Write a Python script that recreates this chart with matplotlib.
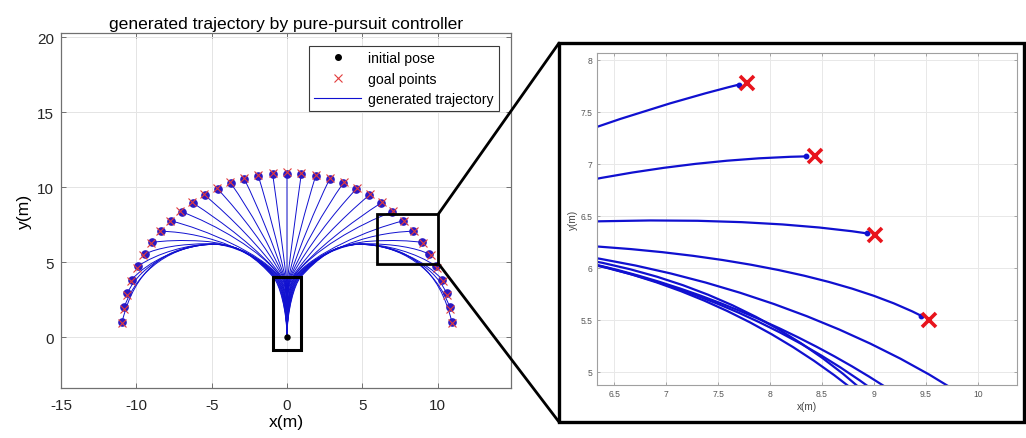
import numpy as np
import matplotlib
matplotlib.use("Agg")
import matplotlib.pyplot as plt
from matplotlib.path import Path
from matplotlib.patches import PathPatch, Rectangle, ConnectionPatch
from matplotlib.lines import Line2D

plt.rcParams['font.family'] = ['Liberation Sans', 'DejaVu Sans']

# ---------------------------------------------------------------- data
init_x = [0.0]
init_y = [0.0]

# goal points on the arc (ordered right to left)
goal_x = [10.96, 10.83, 10.63, 10.34, 9.97, 9.53, 9.01, 8.43, 7.78, 7.07, 6.31, 5.50,
          4.65, 3.76, 2.85, 1.91, 0.96, 0.00, -0.96, -1.91, -2.85, -3.76, -4.65, -5.50,
          -6.31, -7.07, -7.78, -8.43, -9.01, -9.53, -9.97, -10.34, -10.63, -10.83, -10.96]
goal_y = [0.96, 1.91, 2.85, 3.76, 4.65, 5.50, 6.31, 7.07, 7.78, 8.43, 9.01, 9.53,
          9.97, 10.34, 10.63, 10.83, 10.96, 11.00, 10.96, 10.83, 10.63, 10.34, 9.97, 9.53,
          9.01, 8.43, 7.78, 7.07, 6.31, 5.50, 4.65, 3.76, 2.85, 1.91, 0.96]

# Bezier control polygons of each trajectory after the start funnel:
# knot at y = 4, then cubic control points, last point = final pose
traj_ctrl = [
    [(0.90, 4.00), (2.00, 5.25), (3.20, 6.20), (4.80, 6.20), (8.10, 6.20), (10.12, 4.45), (10.94, 1.04)],
    [(0.85, 4.00), (1.95, 5.25), (3.20, 6.20), (4.80, 6.20), (7.60, 6.20), (9.92, 4.50), (10.81, 1.99)],
    [(0.79, 4.00), (1.89, 5.25), (3.20, 6.20), (4.80, 6.20), (7.05, 6.20), (9.68, 4.95), (10.60, 2.93)],
    [(0.74, 4.00), (1.84, 5.25), (3.20, 6.21), (4.80, 6.21), (6.95, 6.21), (9.34, 5.00), (10.30, 3.84)],
    [(0.69, 4.00), (1.79, 5.25), (3.25, 6.22), (4.85, 6.22), (6.60, 6.22), (8.60, 5.62), (9.92, 4.73)],
    [(0.64, 4.00), (1.74, 5.30), (3.60, 6.24), (5.20, 6.24), (7.00, 6.24), (8.60, 5.97), (9.45, 5.54)],
    [(0.58, 4.00), (1.68, 5.35), (3.60, 6.30), (5.60, 6.41), (7.00, 6.50), (8.20, 6.44), (8.93, 6.33)],
    [(0.53, 4.00), (1.73, 5.50), (5.10, 7.00), (8.35, 7.07)],
    [(0.48, 4.00), (1.68, 5.60), (5.47, 7.21), (7.70, 7.76)],
    [(0.42, 4.00), (1.62, 5.75), (4.80, 7.55), (7.00, 8.37)],
    [(0.37, 4.00), (1.79, 5.81), (4.32, 7.71), (6.25, 8.96)],
    [(0.32, 4.00), (1.64, 5.88), (3.69, 7.99), (5.45, 9.47)],
    [(0.26, 4.00), (1.38, 6.01), (3.04, 8.22), (4.61, 9.90)],
    [(0.21, 4.00), (1.15, 6.10), (2.41, 8.39), (3.73, 10.27)],
    [(0.16, 4.00), (0.91, 6.18), (1.82, 8.48), (2.83, 10.55)],
    [(0.11, 4.00), (0.63, 6.24), (1.23, 8.55), (1.90, 10.75)],
    [(0.05, 4.00), (0.33, 6.28), (0.63, 8.60), (0.95, 10.88)],
    [(0.00, 4.00), (0.00, 6.30), (0.00, 8.60), (0.00, 10.92)],
    [(-0.05, 4.00), (-0.33, 6.28), (-0.63, 8.60), (-0.95, 10.88)],
    [(-0.11, 4.00), (-0.63, 6.24), (-1.23, 8.55), (-1.90, 10.75)],
    [(-0.16, 4.00), (-0.91, 6.18), (-1.82, 8.48), (-2.83, 10.55)],
    [(-0.21, 4.00), (-1.15, 6.10), (-2.41, 8.39), (-3.73, 10.27)],
    [(-0.26, 4.00), (-1.38, 6.01), (-3.04, 8.22), (-4.61, 9.90)],
    [(-0.32, 4.00), (-1.64, 5.88), (-3.69, 7.99), (-5.45, 9.47)],
    [(-0.37, 4.00), (-1.79, 5.81), (-4.32, 7.71), (-6.25, 8.96)],
    [(-0.42, 4.00), (-1.62, 5.75), (-4.80, 7.55), (-7.00, 8.37)],
    [(-0.48, 4.00), (-1.68, 5.60), (-5.47, 7.21), (-7.70, 7.76)],
    [(-0.53, 4.00), (-1.73, 5.50), (-5.10, 7.00), (-8.35, 7.07)],
    [(-0.58, 4.00), (-1.68, 5.35), (-3.60, 6.30), (-5.60, 6.41), (-7.00, 6.50), (-8.20, 6.44), (-8.93, 6.33)],
    [(-0.64, 4.00), (-1.74, 5.30), (-3.60, 6.24), (-5.20, 6.24), (-7.00, 6.24), (-8.60, 5.97), (-9.45, 5.54)],
    [(-0.69, 4.00), (-1.79, 5.25), (-3.25, 6.22), (-4.85, 6.22), (-6.60, 6.22), (-8.60, 5.62), (-9.92, 4.73)],
    [(-0.74, 4.00), (-1.84, 5.25), (-3.20, 6.21), (-4.80, 6.21), (-6.95, 6.21), (-9.34, 5.00), (-10.30, 3.84)],
    [(-0.79, 4.00), (-1.89, 5.25), (-3.20, 6.20), (-4.80, 6.20), (-7.05, 6.20), (-9.68, 4.95), (-10.60, 2.93)],
    [(-0.85, 4.00), (-1.95, 5.25), (-3.20, 6.20), (-4.80, 6.20), (-7.60, 6.20), (-9.92, 4.50), (-10.81, 1.99)],
    [(-0.90, 4.00), (-2.00, 5.25), (-3.20, 6.20), (-4.80, 6.20), (-8.10, 6.20), (-10.12, 4.45), (-10.94, 1.04)],
]

x_ticks = [-15, -10, -5, 0, 5, 10]
y_ticks = [0, 5, 10, 15, 20]
zoom_x_ticks = [6.5, 7, 7.5, 8, 8.5, 9, 9.5, 10]
zoom_y_ticks = [5, 5.5, 6, 6.5, 7, 7.5, 8]

# vehicle box around the start and zoomed window
vehicle_box = (-0.9, 0.9, -0.85, 4.0)
zoom_box = (6.0, 10.05, 4.92, 8.22)

# ---------------------------------------------------------------- helpers
FUNNEL_RISE = 1.8
FUNNEL_HANDLE = 0.6


def trajectory_path(ctrl):
    p1 = np.asarray(ctrl[0], float)
    c3 = np.asarray(ctrl[1], float)
    d = c3 - p1
    d = d / np.hypot(*d)
    c2 = p1 - FUNNEL_HANDLE * d
    verts = [(init_x[0], init_y[0]), (init_x[0], init_y[0] + FUNNEL_RISE), tuple(c2)] + [tuple(p) for p in ctrl]
    codes = [Path.MOVETO] + [Path.CURVE4] * (len(verts) - 1)
    return Path(verts, codes)


end_x = [row[-1][0] for row in traj_ctrl]
end_y = [row[-1][1] for row in traj_ctrl]

BLUE = '#1010d0'
RED = '#e23c3c'

# ---------------------------------------------------------------- figure
fig = plt.figure(figsize=(10.26, 4.39), dpi=100)

ax = fig.add_axes([61 / 1026, 1 - 389 / 439, 450 / 1026, 354.7 / 439])
ax.set_xlim(-15, 14.87)
ax.set_ylim(-3.38, 20.27)
ax.set_xticks(x_ticks)
ax.set_yticks(y_ticks)
ax.set_xticklabels([str(t) for t in x_ticks])
ax.set_yticklabels([str(t) for t in y_ticks])
ax.grid(True, color='#e4e4e4', lw=0.7)
ax.set_axisbelow(True)
ax.tick_params(direction='in', top=True, right=True, length=3.5, width=0.7,
               color='#707070', labelsize=11, labelcolor='#262626')
ax.tick_params(axis='x', pad=7)
ax.tick_params(axis='y', pad=5)
for s in ax.spines.values():
    s.set_color('#707070')
    s.set_linewidth(0.9)

for row in traj_ctrl:
    ax.add_patch(PathPatch(trajectory_path(row), fill=False, edgecolor=BLUE, lw=0.7, zorder=2))
ax.plot(end_x, end_y, ls='none', marker='o', ms=5.2, mfc='#2a18c4', mec='#2a18c4', zorder=3)
ax.plot(goal_x, goal_y, ls='none', marker='x', ms=6, mew=0.8, color=RED, zorder=4)
ax.plot(init_x, init_y, ls='none', marker='o', ms=3.6, color='k', zorder=5)

vx0, vx1, vy0, vy1 = vehicle_box
ax.add_patch(Rectangle((vx0, vy0), vx1 - vx0, vy1 - vy0, fill=False, ec='k', lw=2.2, zorder=6))
zx0, zx1, zy0, zy1 = zoom_box
ax.add_patch(Rectangle((zx0, zy0), zx1 - zx0, zy1 - zy0, fill=False, ec='k', lw=2.0, zorder=6))

ax.set_title('generated trajectory by pure-pursuit controller', fontsize=12.6, pad=4)
ax.set_xlabel('x(m)', fontsize=12.6, labelpad=2)
ax.set_ylabel('y(m)', fontsize=12.6, labelpad=4)

handles = [
    Line2D([], [], ls='none', marker='o', ms=4, color='k'),
    Line2D([], [], ls='none', marker='x', ms=6, mew=0.8, color=RED),
    Line2D([], [], color=BLUE, lw=0.8),
]
leg = ax.legend(handles, ['initial pose', 'goal points', 'generated trajectory'],
                loc='upper right', bbox_to_anchor=(0.973, 0.963), borderaxespad=0,
                fontsize=10.1, fancybox=False, framealpha=1, edgecolor='#3a3a3a',
                handlelength=3.4, labelspacing=0.45, handletextpad=0.5, borderpad=0.35)
leg.get_frame().set_linewidth(0.8)

# ---------------------------------------------------------------- zoomed view
frame_l, frame_r = 559 / 1026, 1024 / 1026
frame_b, frame_t = 1 - 423 / 439, 1 - 44 / 439
fig.add_artist(Rectangle((frame_l, frame_b), frame_r - frame_l, frame_t - frame_b,
                         transform=fig.transFigure, fill=False, ec='k', lw=2.4))

for xa, ya, yb in [(zx1, zy1, frame_t), (zx1, zy0, frame_b)]:
    con = ConnectionPatch(xyA=(xa, ya), coordsA=ax.transData,
                          xyB=(frame_l, yb), coordsB=fig.transFigure,
                          color='k', lw=2.0)
    fig.add_artist(con)

axz = fig.add_axes([597 / 1026, 1 - 386.3 / 439, 420.3 / 1026, 332 / 439])
axz.set_xlim(6.334, 10.381)
axz.set_ylim(4.869, 8.061)
axz.set_xticks(zoom_x_ticks)
axz.set_yticks(zoom_y_ticks)
axz.set_xticklabels([f'{t:g}' for t in zoom_x_ticks])
axz.set_yticklabels([f'{t:g}' for t in zoom_y_ticks])
axz.grid(True, color='#e8e8e8', lw=0.7)
axz.set_axisbelow(True)
axz.tick_params(direction='in', top=True, right=True, length=2.5, width=0.6,
                color='#9a9a9a', labelsize=6.2, labelcolor='#555555', pad=3)
for s in axz.spines.values():
    s.set_color('#a0a0a0')
    s.set_linewidth(0.8)

for row in traj_ctrl:
    axz.add_patch(PathPatch(trajectory_path(row), fill=False, edgecolor=BLUE, lw=1.6, zorder=2))
axz.plot(end_x, end_y, ls='none', marker='o', ms=3.2, color=BLUE, zorder=3)
axz.plot(goal_x, goal_y, ls='none', marker='x', ms=9.5, mew=2.6, color='#e8141c', zorder=4)

axz.set_xlabel('x(m)', fontsize=7.2, color='#444444', labelpad=2)
axz.set_ylabel('y(m)', fontsize=7.2, color='#444444', labelpad=2)

fig.savefig('out.png', dpi=100)
